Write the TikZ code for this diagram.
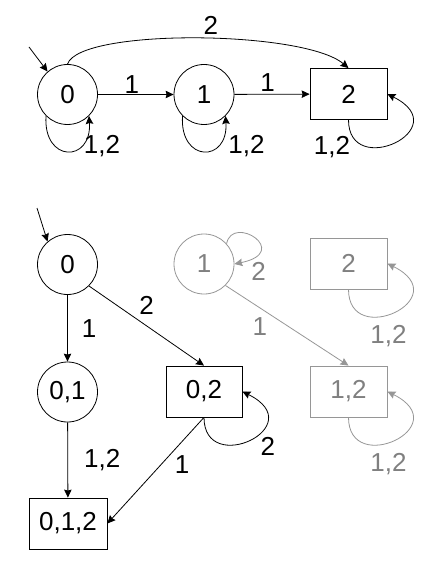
\documentclass[tikz,border=0pt]{standalone}
\usepackage{fontspec}
\setmainfont{Liberation Sans}
\usetikzlibrary{positioning,arrows.meta}
\definecolor{fadedline}{RGB}{150,150,150}
\definecolor{fadedtext}{RGB}{128,128,128}

\begin{document}
\begin{tikzpicture}[x=1pt,y=1pt,
  state/.style={circle,draw,line width=0.8pt,minimum size=60pt,inner sep=1pt,
    font=\fontsize{26}{26}\selectfont},
  accept/.style={rectangle,draw,line width=0.8pt,minimum width=77pt,minimum height=51pt,
    inner sep=1pt,font=\fontsize{26}{26}\selectfont},
  faded/.style={draw=fadedline,text=fadedtext},
  edge/.style={-{Stealth[length=8pt,width=7.5pt,inset=1pt]},line width=0.8pt},
  fadededge/.style={edge,draw=fadedline},
  lbl/.style={font=\fontsize{26}{26}\selectfont,inner sep=1pt},
  fadedlbl/.style={lbl,text=fadedtext}
]
\useasboundingbox (0,0) rectangle (428,-572);

% automaton
\node[state] (q0) at (67.5,-94.5) {0};
\node[state] (q1) at (204,-94.5) {1};
\node[accept] (q2) at (348.5,-94) {2};
\coordinate (init0) at (29,-47);

\draw[edge] (init0) -- (q0.131);
\draw[edge] (q0) -- node[lbl,pos=0.45,above] {1} (q1);
\draw[edge] (q1) -- node[lbl,pos=0.44,above=1pt] {1} (q2);
\draw[edge] (q0.north) .. controls +(12,36) and +(-45,38) .. node[lbl,pos=0.54,above=3pt] {2} (q2.north);
\draw[edge] (q0.225) .. controls +(-3,-47) and +(3,-47) .. node[lbl,pos=0.7,right=2pt] {1,2} (q0.315);
\draw[edge] (q1.225) .. controls +(-3,-47) and +(3,-47) .. node[lbl,pos=0.7,right=10pt] {1,2} (q1.315);
\draw[edge] (q2.south) .. controls +(0,-60) and +(70,-35) .. node[lbl,pos=0.1,anchor=north east] {1,2} (q2.east);

% subset construction
\node[state] (p0) at (67.5,-264.5) {0};
\node[state] (p01) at (67.5,-392) {0,1};
\node[accept,minimum width=76pt] (p02) at (204,-391.5) {0,2};
\node[accept,minimum width=78pt] (p012) at (68,-523.5) {0,1,2};
\node[state,faded] (g1) at (204,-264) {1};
\node[accept,faded] (g2) at (348.5,-263.5) {2};
\node[accept,faded] (g12) at (348.5,-391.5) {1,2};
\coordinate (init1) at (37,-208);

\draw[edge] (init1) -- (p0.131);
\draw[edge] (p0) -- node[lbl,right=13pt] {1} (p01);
\draw[edge] (p0.315) -- node[lbl,above=10pt] {2} (p02.north);
\draw[edge] (p01) -- node[lbl,right=15pt] {1,2} (p012);
\draw[edge] (p02.south) -- node[lbl,pos=0.33,below right=2pt] {1} (p012.east);
\draw[edge] (p02.south) .. controls +(0,-60) and +(70,-35) .. node[lbl,pos=0.6,anchor=north west,yshift=-3pt] {2} (p02.east);

% unreachable part
\draw[fadededge] (g1.42) .. controls +(6,30) and +(58,12) .. node[fadedlbl,pos=0.9,below right=2pt] {2} (g1.east);
\draw[fadededge] (g1.315) -- node[fadedlbl,pos=0.36,below left=2pt] {1} (g12.north);
\draw[fadededge] (g2.south) .. controls +(0,-60) and +(70,-35) .. node[fadedlbl,pos=0.45,below=9pt] {1,2} (g2.east);
\draw[fadededge] (g12.south) .. controls +(0,-60) and +(70,-35) .. node[fadedlbl,pos=0.45,below=9pt] {1,2} (g12.east);
\end{tikzpicture}
\end{document}
